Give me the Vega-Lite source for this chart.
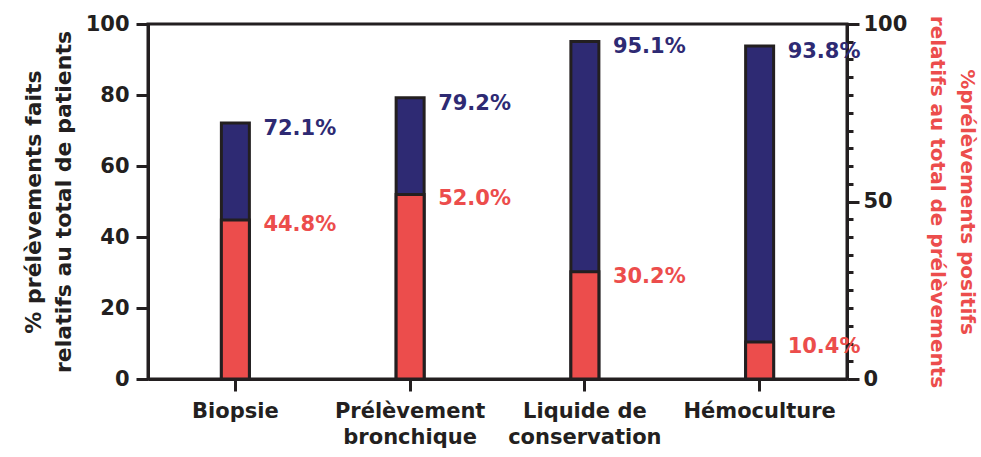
{
  "$schema": "https://vega.github.io/schema/vega-lite/v6.json",
  "width": 699,
  "height": 355,
  "autosize": {"type": "none"},
  "padding": {"left": 148, "top": 24, "right": 134, "bottom": 78},
  "background": "white",
  "config": {
    "font": "DejaVu Sans",
    "view": {"stroke": "#231F20", "strokeWidth": 3},
    "axis": {
      "domainColor": "#231F20",
      "domainWidth": 3,
      "tickColor": "#231F20",
      "tickWidth": 3,
      "labelFont": "DejaVu Sans",
      "labelFontWeight": "bold",
      "labelColor": "#231F20",
      "titleFont": "DejaVu Sans",
      "titleFontWeight": "bold",
      "grid": false
    }
  },
  "data": {
    "values": [
      {"categorie": "Biopsie", "faits": 72.1, "positifs": 44.8},
      {"categorie": "Prélèvement bronchique", "faits": 79.2, "positifs": 52.0},
      {"categorie": "Liquide de conservation", "faits": 95.1, "positifs": 30.2},
      {"categorie": "Hémoculture", "faits": 93.8, "positifs": 10.4}
    ]
  },
  "encoding": {
    "x": {
      "field": "categorie",
      "type": "nominal",
      "sort": null,
      "scale": {"paddingInner": 0, "paddingOuter": 0},
      "axis": {
        "title": null,
        "labelAngle": 0,
        "labelFontSize": 21,
        "labelLineHeight": 26,
        "tickSize": 12,
        "labelPadding": 9,
        "labelExpr": "datum.label == 'Prélèvement bronchique' ? ['Prélèvement', 'bronchique'] : datum.label == 'Liquide de conservation' ? ['Liquide de', 'conservation'] : datum.label"
      }
    }
  },
  "layer": [
    {
      "mark": {"type": "bar", "size": 28, "color": "#2E2A73", "stroke": "#231F20", "strokeWidth": 3},
      "encoding": {
        "y": {
          "field": "faits",
          "type": "quantitative",
          "scale": {"domain": [0, 100], "nice": false},
          "axis": {
            "orient": "left",
            "values": [0, 20, 40, 60, 80, 100],
            "tickSize": 12,
            "labelPadding": 7,
            "labelFontSize": 21,
            "title": ["% prélèvements faits", "relatifs au total de patients"],
            "titleFontSize": 22,
            "titleColor": "#231F20",
            "titleLineHeight": 30,
            "titlePadding": 10
          }
        }
      }
    },
    {
      "mark": {"type": "bar", "size": 28, "color": "#EC4D4C", "stroke": "#231F20", "strokeWidth": 3},
      "encoding": {
        "y": {
          "field": "positifs",
          "type": "quantitative",
          "scale": {"domain": [0, 100], "nice": false},
          "axis": {
            "orient": "right",
            "values": [0, 5, 10, 15, 20, 25, 30, 35, 40, 45, 50, 55, 60, 65, 70, 75, 80, 85, 90, 95, 100],
            "tickSize": {"condition": {"test": "datum.value % 50 === 0", "value": 12}, "value": 6},
            "labelExpr": "datum.value % 50 === 0 ? datum.label : ''",
            "labelPadding": 4,
            "labelFontSize": 21,
            "title": ["%prélèvements positifs", "relatifs au total de prélèvements"],
            "titleFontSize": 20,
            "titleColor": "#EC4D4C",
            "titleLineHeight": 30,
            "titlePadding": 20
          }
        }
      }
    },
    {
      "mark": {"type": "text", "align": "left", "baseline": "middle", "dx": 28, "dy": 6, "fontSize": 21, "fontWeight": "bold", "color": "#2E2A73", "text": {"expr": "format(datum.faits, '.1f') + '%'"}},
      "encoding": {
        "y": {"field": "faits", "type": "quantitative", "scale": {"domain": [0, 100], "nice": false}, "axis": null}
      }
    },
    {
      "mark": {"type": "text", "align": "left", "baseline": "middle", "dx": 28, "dy": 5, "fontSize": 21, "fontWeight": "bold", "color": "#EC4D4C", "text": {"expr": "format(datum.positifs, '.1f') + '%'"}},
      "encoding": {
        "y": {"field": "positifs", "type": "quantitative", "scale": {"domain": [0, 100], "nice": false}, "axis": null}
      }
    }
  ],
  "resolve": {"scale": {"y": "shared"}, "axis": {"y": "independent"}}
}
